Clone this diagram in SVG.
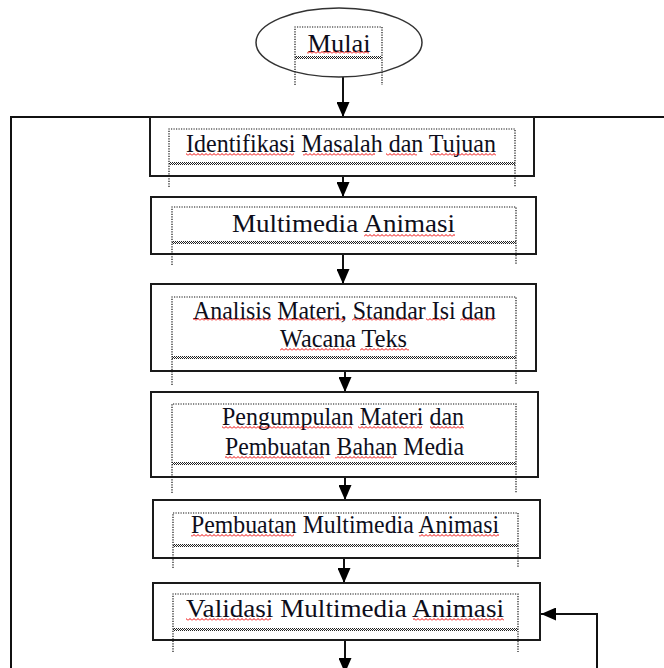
<svg xmlns="http://www.w3.org/2000/svg" width="664" height="668" viewBox="0 0 664 668">
<style>
.box{fill:#fff;stroke:#1a1a1a;stroke-width:2}
.ell{fill:#fff;stroke:#333;stroke-width:1.5}
.dot{fill:none;stroke:#111;stroke-width:1.2;stroke-dasharray:1.2 1.3}
.hatch{fill:url(#hatch)}
.sq{fill:url(#sq)}
.lbl{font-family:"Liberation Serif","Times New Roman",serif;font-size:26px;fill:#0d0d1a;text-anchor:middle}
.conn{fill:none;stroke:#111;stroke-width:2}
.arr{marker-end:url(#ah)}
</style>
<defs>
<marker id="ah" markerUnits="userSpaceOnUse" viewBox="0 0 15 13" markerWidth="15" markerHeight="13" refX="15" refY="6.5" orient="auto">
<path d="M0 0 L15 6.5 L0 13 z" fill="#000"/>
</marker>
<pattern id="sq" width="4" height="3" patternUnits="userSpaceOnUse">
<path d="M0 2.5 L2 0.5 L4 2.5" fill="none" stroke="#e00" stroke-width="1"/>
</pattern>
<pattern id="hatch" width="2" height="2" patternUnits="userSpaceOnUse">
<rect x="0" y="0" width="1" height="1" fill="#222"/>
<rect x="1" y="1" width="1" height="1" fill="#222"/>
</pattern>
</defs>
<rect width="664" height="668" fill="#fff"/>

<g id="connectors">
<path class="conn" d="M11 668 V117 H664"/>
<path class="conn arr" d="M343 77 V117"/>
<path class="conn arr" d="M343 176 V197"/>
<path class="conn arr" d="M343 254 V284"/>
<path class="conn arr" d="M345 371 V392"/>
<path class="conn arr" d="M345 477 V500"/>
<path class="conn arr" d="M344 558 V583"/>
<path class="conn arr" d="M345 641 V673"/>
<path class="conn arr" d="M597 668 V614 H541"/>
</g>

<g id="mulai">
<ellipse class="ell" cx="339" cy="42.5" rx="83" ry="34.5"/>
<path class="dot" d="M295 85 V27 H382 V85"/>
<rect class="hatch" x="295" y="56" width="87" height="3"/>
<text class="lbl" x="339" y="52" textLength="63" lengthAdjust="spacingAndGlyphs">Mulai</text>
<rect class="sq" x="307" y="51" width="62" height="3"/>
</g>

<g id="identifikasi">
<rect class="box" x="150" y="117" width="384" height="59"/>
<path class="dot" d="M169 187 V129 H515 V187"/>
<rect class="hatch" x="169" y="162" width="346" height="3"/>
<text class="lbl" x="341" y="152" textLength="310" lengthAdjust="spacingAndGlyphs">Identifikasi Masalah dan Tujuan</text>
<rect class="sq" x="186" y="153" width="108" height="3"/>
<rect class="sq" x="303" y="153" width="72" height="3"/>
<rect class="sq" x="386" y="153" width="31" height="3"/>
<rect class="sq" x="430" y="153" width="66" height="3"/>
</g>

<g id="multimedia">
<rect class="box" x="151" y="197" width="385" height="57"/>
<path class="dot" d="M172 265 V207 H516 V265"/>
<rect class="hatch" x="172" y="241" width="344" height="3"/>
<text class="lbl" x="343.5" y="232" textLength="223" lengthAdjust="spacingAndGlyphs">Multimedia Animasi</text>
<rect class="sq" x="364" y="234" width="91" height="3"/>
</g>

<g id="analisis">
<rect class="box" x="151" y="284" width="385" height="87"/>
<path class="dot" d="M172 385 V297 H516 V385"/>
<rect class="hatch" x="172" y="356" width="344" height="3"/>
<text class="lbl" x="344.5" y="319" textLength="303" lengthAdjust="spacingAndGlyphs">Analisis Materi, Standar Isi dan</text>
<text class="lbl" x="343.5" y="347" textLength="127" lengthAdjust="spacingAndGlyphs">Wacana Teks</text>
<rect class="sq" x="193" y="318" width="78" height="3"/>
<rect class="sq" x="278" y="318" width="67" height="3"/>
<rect class="sq" x="352" y="318" width="67" height="3"/>
<rect class="sq" x="426" y="318" width="19" height="3"/>
<rect class="sq" x="460" y="318" width="34" height="3"/>
<rect class="sq" x="280" y="348" width="70" height="3"/>
<rect class="sq" x="360" y="348" width="49" height="3"/>
</g>

<g id="pengumpulan">
<rect class="box" x="151" y="392" width="387" height="85"/>
<path class="dot" d="M172 493 V404 H516 V493"/>
<rect class="hatch" x="172" y="462" width="344" height="3"/>
<text class="lbl" x="343" y="425" textLength="242" lengthAdjust="spacingAndGlyphs">Pengumpulan Materi dan</text>
<text class="lbl" x="344.5" y="455" textLength="239" lengthAdjust="spacingAndGlyphs">Pembuatan Bahan Media</text>
<rect class="sq" x="222" y="426" width="130" height="3"/>
<rect class="sq" x="358" y="426" width="64" height="3"/>
<rect class="sq" x="430" y="426" width="34" height="3"/>
<rect class="sq" x="225" y="456" width="99" height="3"/>
<rect class="sq" x="335" y="456" width="59" height="3"/>
</g>

<g id="pembuatan">
<rect class="box" x="153" y="500" width="387" height="58"/>
<path class="dot" d="M173 568 V513 H518 V568"/>
<rect class="hatch" x="173" y="544" width="345" height="3"/>
<text class="lbl" x="345" y="533" textLength="308" lengthAdjust="spacingAndGlyphs">Pembuatan Multimedia Animasi</text>
<rect class="sq" x="191" y="534" width="103" height="3"/>
<rect class="sq" x="419" y="534" width="80" height="3"/>
</g>

<g id="validasi">
<rect class="box" x="153" y="583" width="387" height="57"/>
<path class="dot" d="M173 652 V594 H518 V652"/>
<rect class="hatch" x="173" y="628" width="345" height="3"/>
<text class="lbl" x="345" y="617" textLength="318" lengthAdjust="spacingAndGlyphs">Validasi Multimedia Animasi</text>
<rect class="sq" x="186" y="618" width="85" height="3"/>
<rect class="sq" x="413" y="618" width="91" height="3"/>
</g>
</svg>
